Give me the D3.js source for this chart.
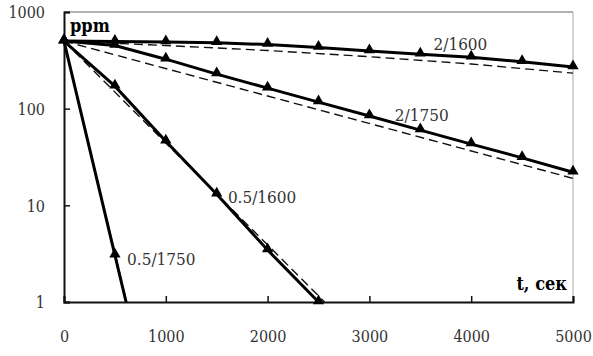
<!DOCTYPE html>
<html>
<head>
<meta charset="utf-8">
<script src="https://cdn.jsdelivr.net/npm/d3@7"></script>
<style>
  body { margin: 0; background: #fff; }
  svg text { font-family: "DejaVu Serif Condensed", "DejaVu Serif", serif; font-stretch: condensed; }
</style>
</head>
<body>
<div id="chart"></div>
<script>
// measured points (solid lines with triangles)
const t = [0, 500, 1000, 1500, 2000, 2500, 3000, 3500, 4000, 4500, 5000];
const s2_1600 = [500, 495, 490, 480, 460, 430, 395, 365, 340, 305, 270];
const s2_1750 = [500, 450, 325, 228, 163, 117, 84, 60, 43, 31, 22];
const s05_1600 = [500, 171, 46, 13, 3.45, 1];
const s05_1750 = [500, 3.05];
// where the 0.5/1750 line runs out at the axis
const s05_1750_end = [610, 1];

// model lines (dashed)
const m2_1600 = [[0, 500], [1000, 450], [2000, 400], [3000, 345], [4000, 290], [5000, 233]];
const m2_1750 = [[0, 500], [5000, 19]];
const m05_1600 = [[0, 500], [2560, 1]];
const m05_1750 = [[0, 500], [615, 1]];

const xTicks = [0, 1000, 2000, 3000, 4000, 5000];
const yTicks = [1, 10, 100, 1000];

const labels = [
    { text: "2/1600", t: 3630, v: 400 },
    { text: "2/1750", t: 3250, v: 75 },
    { text: "0.5/1600", t: 1610, v: 10.6 },
    { text: "0.5/1750", t: 620, v: 2.4 }
];

const width = 593, height = 356;
const margin = { top: 12, right: 20, bottom: 54, left: 64 };
const serif = "'DejaVu Serif Condensed', 'DejaVu Serif', serif";

const svg = d3.select("#chart")
    .append("svg")
    .attr("width", width)
    .attr("height", height)
    .attr("font-family", serif);

const x = d3.scaleLinear()
    .domain([0, 5000])
    .range([margin.left, width - margin.right]);

const y = d3.scaleLog()
    .domain([1, 1000])
    .range([height - margin.bottom, margin.top]);

// plot frame: top darker, right light
svg.append("line")
    .attr("x1", x(0)).attr("x2", x(5000))
    .attr("y1", y(1000)).attr("y2", y(1000))
    .attr("stroke", "#666").attr("stroke-width", 1.2);
svg.append("line")
    .attr("x1", x(5000)).attr("x2", x(5000))
    .attr("y1", y(1000)).attr("y2", y(1))
    .attr("stroke", "#aaa").attr("stroke-width", 1);

const xAxis = svg.append("g")
    .attr("transform", `translate(0,${y(1)})`)
    .call(d3.axisBottom(x).tickValues(xTicks).tickSize(-6).tickPadding(29).tickFormat(d3.format("d")));

const yAxis = svg.append("g")
    .attr("transform", `translate(${x(0)},0)`)
    .call(d3.axisLeft(y).tickValues(yTicks).tickSize(-6).tickPadding(19).tickFormat(d3.format("d")));

[xAxis, yAxis].forEach(a => {
    a.attr("font-family", serif);
    a.select(".domain").attr("stroke", "#111").attr("stroke-width", 2);
    a.selectAll(".tick line").attr("stroke", "#111").attr("stroke-width", 1.5);
    a.selectAll(".tick text")
        .attr("fill", "#333")
        .style("font-size", "16px");
});
yAxis.selectAll(".tick text").attr("dy", "0.36em");

const plot = svg.append("g");

const line = d3.line()
    .x(d => x(d[0]))
    .y(d => y(d[1]));

const dashed = [m2_1600, m2_1750, m05_1600, m05_1750];
plot.selectAll(".model")
    .data(dashed)
    .enter().append("path")
    .attr("class", "model")
    .attr("d", line)
    .attr("fill", "none")
    .attr("stroke", "#111")
    .attr("stroke-width", 1.4)
    .attr("stroke-dasharray", "9,5");

const series = [s2_1600, s2_1750, s05_1600, s05_1750].map(vals => vals.map((v, i) => [t[i], v]));

plot.selectAll(".meas")
    .data(series.map((pts, i) => i === 3 ? pts.concat([s05_1750_end]) : pts))
    .enter().append("path")
    .attr("class", "meas")
    .attr("d", line)
    .attr("fill", "none")
    .attr("stroke", "#000")
    .attr("stroke-width", 3);

const tri = d3.symbol().type(d3.symbolTriangle).size(55);

plot.selectAll(".marker")
    .data(series.flat())
    .enter().append("path")
    .attr("class", "marker")
    .attr("d", tri)
    .attr("transform", d => `translate(${x(d[0])},${y(d[1]) - 1})`)
    .attr("fill", "#000");

svg.selectAll(".slabel")
    .data(labels)
    .enter().append("text")
    .attr("class", "slabel")
    .attr("x", d => x(d.t))
    .attr("y", d => y(d.v))
    .attr("fill", "#333")
    .style("font-size", "17px")
    .text(d => d.text);

svg.append("text")
    .attr("x", x(0) + 6)
    .attr("y", y(1000) + 20)
    .style("font-size", "18px")
    .style("font-weight", "bold")
    .text("ppm");

svg.append("text")
    .attr("x", x(5000) - 6)
    .attr("y", y(1) - 12)
    .attr("text-anchor", "end")
    .style("font-size", "18px")
    .style("font-weight", "bold")
    .text("t, сек");
</script>
</body>
</html>
